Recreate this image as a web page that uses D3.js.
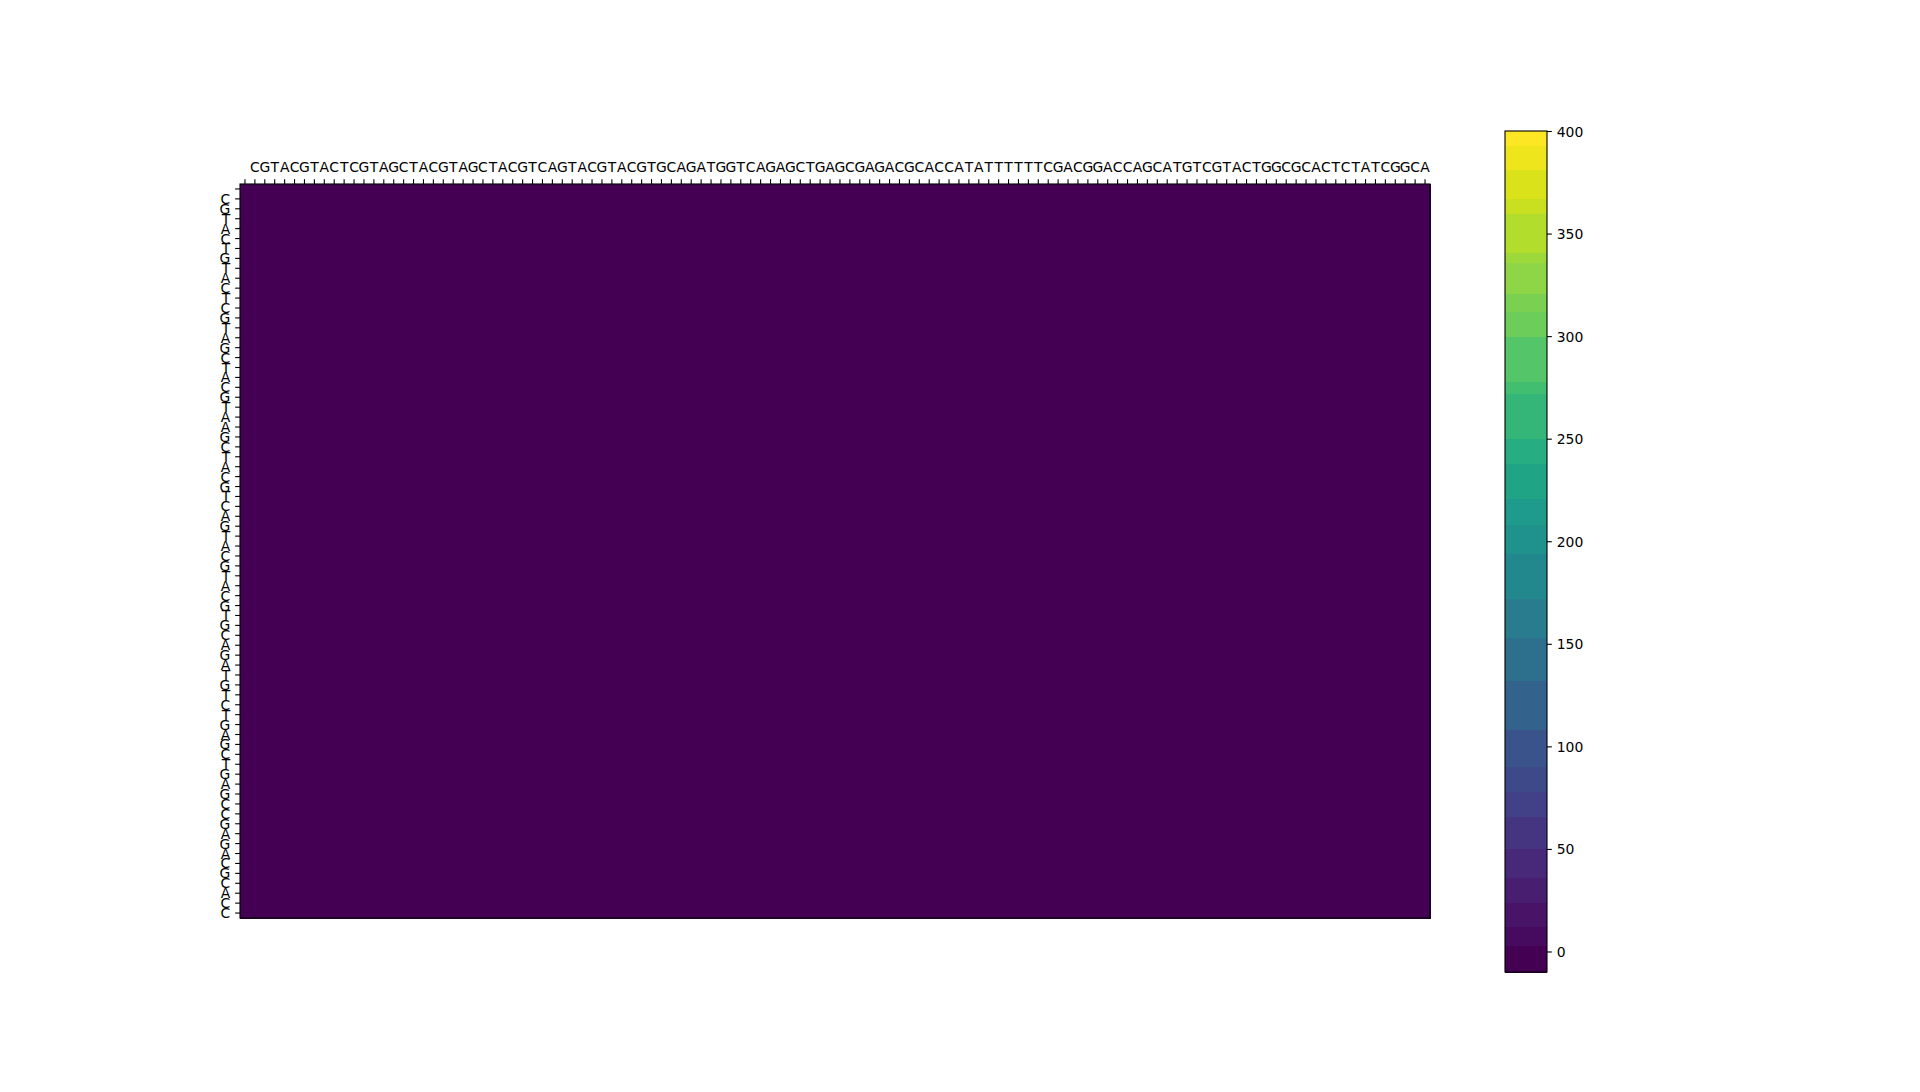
<!DOCTYPE html>
<html>
<head>
<meta charset="utf-8">
<script src="https://cdn.jsdelivr.net/npm/d3@7"></script>
<style>
  html, body { margin: 0; padding: 0; background: #ffffff; }
  svg { display: block; }
  text { font-family: "DejaVu Sans", sans-serif; font-size: 13.9px; fill: #000; }
</style>
</head>
<body>
<script>
// ---------------- data ----------------
// column tick labels (first tick carries an empty label, as in the reference)
const columnLabels = [""].concat(
  "CGTACGTACTCGTAGCTACGTAGCTACGTCAGTACGTACGTGCAGATGGTCAGAGCTGAGCGAGACGCACCATATTTTTTCGACGGACCAGCATGTCGTACTGGCGCACTCTATCGGCA".split("")
);
// row tick labels (first tick carries an empty label)
const rowLabels = [""].concat(
  "CGTACTGTACTCGTAGCTACGTAAGCTACGTCAGTACGTACGTGCAGATGTCTGAGCTGAGCCGAGACGCACC".split("")
);
// every cell of the matrix reads as the lowest colour band
const cellValue = 0;
// colour-bar band boundaries (contour levels)
const levels = [-10, 3, 12, 24, 36, 50, 66, 78, 90, 108, 132, 153, 172, 194, 208, 221,
                238, 250, 272, 278, 300, 312, 321, 336, 341, 360, 367, 381, 393, 400];
// colour-bar tick values
const colorbarTicks = [0, 50, 100, 150, 200, 250, 300, 350, 400];

// ---------------- layout ----------------
const W = 1920, H = 1092;
const plot = { left: 240, right: 1430, top: 184, bottom: 918 };
const cbar = { left: 1505, right: 1547, top: 131, bottom: 972 };
const tickLen = 4.86, tickPad = 4.86;

const svg = d3.select("body").append("svg").attr("width", W).attr("height", H);

// band colours: viridis at each band midpoint, normalised over the midpoints
const vmin = levels[0], vmax = levels[levels.length - 1];
const mids = d3.range(levels.length - 1).map(i => (levels[i] + levels[i + 1]) / 2);
const m0 = mids[0], m1 = mids[mids.length - 1];
const bands = mids.map((m, i) => ({
  lo: levels[i], hi: levels[i + 1],
  color: d3.interpolateViridis((m - m0) / (m1 - m0))
}));
const colorScale = d3.scaleThreshold()
  .domain(levels.slice(1, -1))
  .range(bands.map(b => b.color));

// ---------------- heatmap ----------------
const x = d3.scaleBand().domain(d3.range(columnLabels.length)).range([plot.left, plot.right]).padding(0);
const y = d3.scaleBand().domain(d3.range(rowLabels.length)).range([plot.top, plot.bottom]).padding(0);

const cells = [];
rowLabels.forEach((r, ri) => columnLabels.forEach((c, ci) => cells.push({ ri, ci, v: cellValue })));

svg.append("g").selectAll("rect").data(cells).join("rect")
  .attr("x", d => x(d.ci))
  .attr("y", d => y(d.ri))
  .attr("width", x.bandwidth() + 0.6)
  .attr("height", y.bandwidth() + 0.6)
  .attr("fill", d => colorScale(d.v))
  .attr("shape-rendering", "crispEdges");

// frame
svg.append("rect")
  .attr("x", plot.left).attr("y", plot.top)
  .attr("width", plot.right - plot.left).attr("height", plot.bottom - plot.top)
  .attr("fill", "none").attr("stroke", "#000").attr("stroke-width", 1.1);

// top axis
const xAxis = svg.append("g")
  .attr("transform", `translate(0,${plot.top})`)
  .call(d3.axisTop(x).tickFormat(i => columnLabels[i]).tickSize(tickLen).tickPadding(tickPad));
xAxis.select(".domain").remove();
xAxis.selectAll(".tick line").attr("stroke", "#000").attr("stroke-width", 1.1);
xAxis.selectAll(".tick text")
  .attr("y", -(tickLen + tickPad + 2.2)).attr("dy", null)
  .style("font-family", "'DejaVu Sans', sans-serif").style("font-size", "13.9px");

// left axis
const yAxis = svg.append("g")
  .attr("transform", `translate(${plot.left},0)`)
  .call(d3.axisLeft(y).tickFormat(i => rowLabels[i]).tickSize(tickLen).tickPadding(tickPad));
yAxis.select(".domain").remove();
yAxis.selectAll(".tick line").attr("stroke", "#000").attr("stroke-width", 1.1);
yAxis.selectAll(".tick text")
  .attr("dy", "0.36em")
  .style("font-family", "'DejaVu Sans', sans-serif").style("font-size", "13.9px");

// ---------------- colour bar ----------------
const cy = d3.scaleLinear().domain([vmin, vmax]).range([cbar.bottom, cbar.top]);
svg.append("g").selectAll("rect").data(bands).join("rect")
  .attr("x", cbar.left)
  .attr("y", d => cy(d.hi))
  .attr("width", cbar.right - cbar.left)
  .attr("height", d => cy(d.lo) - cy(d.hi) + 0.5)
  .attr("fill", d => d.color)
  .attr("shape-rendering", "crispEdges");
svg.append("rect")
  .attr("x", cbar.left).attr("y", cbar.top)
  .attr("width", cbar.right - cbar.left).attr("height", cbar.bottom - cbar.top)
  .attr("fill", "none").attr("stroke", "#000").attr("stroke-width", 1.1);

const cAxis = svg.append("g")
  .attr("transform", `translate(${cbar.right},0)`)
  .call(d3.axisRight(cy).tickValues(colorbarTicks).tickFormat(d3.format("d")).tickSize(tickLen).tickPadding(tickPad));
cAxis.select(".domain").remove();
cAxis.selectAll(".tick line").attr("stroke", "#000").attr("stroke-width", 1.1);
cAxis.selectAll(".tick text")
  .attr("dy", "0.36em")
  .style("font-family", "'DejaVu Sans', sans-serif").style("font-size", "13.9px");
</script>
</body>
</html>
